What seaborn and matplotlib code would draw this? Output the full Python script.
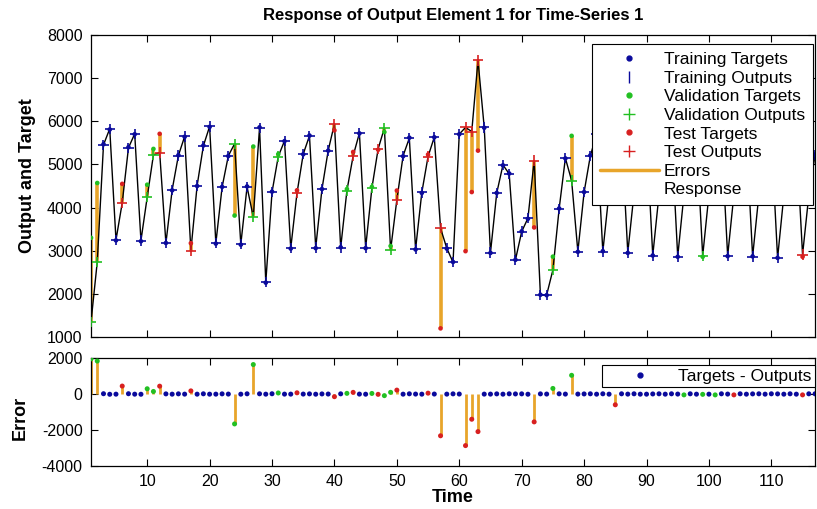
import pandas as pd
import seaborn as sns
import matplotlib.pyplot as plt
from matplotlib.lines import Line2D

# time steps 1..117
time = list(range(1, 118))

outputs = [1350, 2740, 5455, 5826, 3250, 4110, 5385, 5710, 3235, 4240,
           5220, 5276, 3174, 4410, 5207, 5648, 3003, 4510, 5430, 5880,
           3174, 4473, 5200, 5478, 3150, 4480, 3780, 5850, 2270, 4357,
           5184, 5547, 3058, 4334, 5240, 5664, 3072, 4427, 5323, 5940,
           3072, 4395, 5200, 5726, 3072, 4450, 5360, 5842, 3018, 4180,
           5200, 5610, 3035, 4350, 5184, 5633, 3522, 3058, 2733, 5703,
           5857, 5763, 7410, 5857, 2957, 4334, 4990, 4780, 2787, 3443,
           3753, 5090, 1974, 1974, 2555, 3970, 5146, 4626, 2980, 4357,
           5200, 5700, 2980, 4350, 5200, 5680, 2957, 4330, 5180, 5680,
           2888, 4300, 5170, 5660, 2865, 4300, 5150, 5650, 2880, 4300,
           5150, 5650, 2880, 4300, 5150, 5640, 2865, 4290, 5140, 5630,
           2830, 4280, 5130, 5620, 2910, 4280, 5220]

targets = [3300, 4570, 5470, 5810, 3240, 4550, 5400, 5700, 3220, 4530,
           5360, 5710, 3180, 4400, 5215, 5640, 3175, 4500, 5440, 5870,
           3165, 4480, 5195, 3815, 3140, 4490, 5415, 5860, 2260, 4370,
           5240, 5540, 3050, 4400, 5235, 5670, 3060, 4430, 5320, 5790,
           3080, 4430, 5290, 5720, 3060, 4480, 5340, 5750, 3110, 4395,
           5190, 5620, 3030, 4340, 5230, 5630, 1200, 3050, 2740, 5700,
           2990, 4360, 5320, 5850, 2950, 4340, 4980, 4790, 2790, 3450,
           3740, 3540, 1980, 1970, 2863, 3980, 5140, 5663, 2975, 4360,
           5210, 5690, 2990, 4340, 4600, 5690, 2950, 4340, 5170, 5670,
           2890, 4310, 5160, 5670, 2860, 4250, 5160, 5640, 2860, 4290,
           5100, 5660, 2875, 4250, 5160, 5630, 2870, 4300, 5130, 5640,
           2835, 4270, 5140, 5610, 2860, 4290, 5230]

val_steps = [1, 2, 10, 11, 24, 27, 31, 42, 46, 48, 49, 75, 78, 96, 99, 101]
test_steps = [6, 12, 17, 34, 40, 43, 47, 50, 55, 57, 61, 62, 63, 72, 85, 104, 115]

blue = "#0a0a9c"
green = "#22c022"
red = "#d82020"
orange = "#e8a52a"
pal = {"Training": blue, "Validation": green, "Test": red}

df = pd.DataFrame({"time": time, "output": outputs, "target": targets})
df["split"] = "Training"
df.loc[df.time.isin(val_steps), "split"] = "Validation"
df.loc[df.time.isin(test_steps), "split"] = "Test"
df["error"] = df.target - df.output

sns.set_style("ticks")
plt.rcParams['font.family'] = ['Liberation Sans', 'DejaVu Sans']
plt.rcParams['axes.unicode_minus'] = False
plt.rcParams['xtick.direction'] = 'in'
plt.rcParams['ytick.direction'] = 'in'
plt.rcParams['xtick.top'] = True
plt.rcParams['ytick.right'] = True
plt.rcParams['axes.edgecolor'] = 'black'
plt.rcParams['axes.linewidth'] = 0.9
plt.rcParams['text.color'] = 'black'
plt.rcParams['axes.labelcolor'] = 'black'

fig = plt.figure(figsize=(8.17, 5.09), dpi=100)
ax1 = fig.add_axes([0.1114, 0.3379, 0.8862, 0.5933])
ax2 = fig.add_axes([0.1114, 0.0845, 0.8862, 0.2122])

# top panel: response
ax1.vlines(df.time, df.output, df.target, color=orange, lw=2.6, zorder=1)
sns.lineplot(data=df, x="time", y="output", color="black", lw=1, ax=ax1, zorder=2)
sns.scatterplot(data=df, x="time", y="target", hue="split", palette=pal, marker="o",
                s=11, edgecolor="none", ax=ax1, legend=False, zorder=3)
sns.scatterplot(data=df, x="time", y="output", hue="split", palette=pal, marker="+",
                s=55, linewidth=1.2, ax=ax1, legend=False, zorder=3)

ax1.set_xlim(1, 117)
ax1.set_ylim(1000, 8000)
ax1.set_yticks(range(1000, 8001, 1000))
ax1.set_xticks(range(10, 111, 10))
ax1.set_xticklabels([])
ax1.set_xlabel("")
ax1.set_ylabel("Output and Target", fontsize=13, fontweight="bold")
ax1.yaxis.set_label_coords(-0.076, 0.533)
ax1.set_title("Response of Output Element 1 for Time-Series 1", fontsize=12,
              fontweight="bold", pad=11)
ax1.tick_params(labelsize=11.5, length=5, width=0.8, colors="black", pad=6)

handles = [
    Line2D([], [], ls="none", marker=".", color=blue, ms=7),
    Line2D([], [], ls="none", marker="|", color=blue, ms=9),
    Line2D([], [], ls="none", marker=".", color=green, ms=7),
    Line2D([], [], ls="none", marker="+", color=green, ms=9),
    Line2D([], [], ls="none", marker=".", color=red, ms=7),
    Line2D([], [], ls="none", marker="+", color=red, ms=9),
    Line2D([], [], color=orange, lw=2.5),
    Line2D([], [], color="white", lw=1),
]
labels = ["Training Targets", "Training Outputs", "Validation Targets",
          "Validation Outputs", "Test Targets", "Test Outputs", "Errors", "Response"]
leg = ax1.legend(handles, labels, loc="upper right", bbox_to_anchor=(0.997, 0.97),
                 borderaxespad=0, fontsize=12.5, labelspacing=0.2, handlelength=3.4,
                 handletextpad=0.3, borderpad=0.45, fancybox=False, framealpha=1,
                 edgecolor="black")
leg.get_frame().set_linewidth(0.8)

# bottom panel: errors
ax2.vlines(df.time, 0, df.error, color=orange, lw=2, zorder=1)
sns.scatterplot(data=df, x="time", y="error", hue="split", palette=pal, marker="o",
                s=13, edgecolor="none", ax=ax2, legend=False, zorder=3)
ax2.set_xlim(1, 117)
ax2.set_ylim(-4000, 2000)
ax2.set_yticks([-4000, -2000, 0, 2000])
ax2.set_xticks(range(10, 111, 10))
ax2.set_xlabel("Time", fontsize=13, fontweight="bold")
ax2.xaxis.set_label_coords(0.5, -0.215)
ax2.set_ylabel("Error", fontsize=13, fontweight="bold")
ax2.yaxis.set_label_coords(-0.086, 0.444)
ax2.tick_params(labelsize=11.5, length=5, width=0.8, colors="black", pad=6)

leg2 = ax2.legend([Line2D([], [], ls="none", marker=".", color=blue, ms=7)],
                  ["Targets - Outputs"], loc="upper right", bbox_to_anchor=(1.0, 0.935),
                  borderaxespad=0, fontsize=12.5, handlelength=4.0, handletextpad=0.2,
                  borderpad=0.2, fancybox=False, framealpha=1, edgecolor="black")
leg2.get_frame().set_linewidth(0.8)

fig.savefig("out.png", dpi=100)
